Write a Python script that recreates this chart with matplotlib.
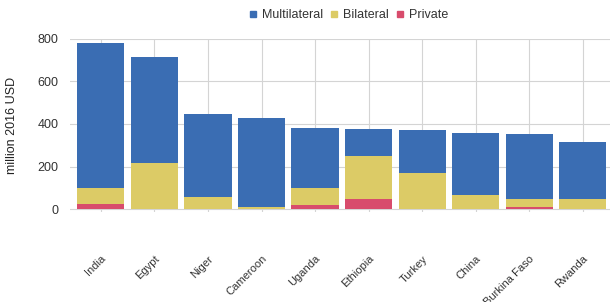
import numpy as np
import matplotlib.pyplot as plt
from matplotlib.lines import Line2D

plt.rcParams['font.family'] = ['Liberation Sans', 'DejaVu Sans']

countries = ['India', 'Egypt', 'Niger', 'Cameroon', 'Uganda', 'Ethiopia',
             'Turkey', 'China', 'Burkina Faso', 'Rwanda']
private = [24, 2, 1, 1, 20, 46, 0, 0, 8, 0]
bilateral = [76, 215, 56, 10, 80, 204, 168, 67, 41, 49]
multilateral = [680, 496, 392, 415, 279, 127, 206, 290, 305, 265]

c_multi = '#3a6db3'
c_bi = '#dccb66'
c_priv = '#d84c6c'

fig = plt.figure(figsize=(6.12, 3.02), dpi=100)
ax = fig.add_axes([0.114, 0.298, 0.883, 0.573])

x = np.arange(len(countries))
priv = np.array(private)
bi = np.array(bilateral)
multi = np.array(multilateral)
w = 0.88
ax.bar(x, priv, w, color=c_priv, zorder=3)
ax.bar(x, bi, w, bottom=priv, color=c_bi, zorder=3)
ax.bar(x, multi, w, bottom=priv + bi, color=c_multi, zorder=3)

ax.set_xlim(-0.58, 9.51)
ax.set_ylim(-14, 800)
ax.set_yticks([0, 200, 400, 600, 800])
ax.set_xticks(x)
ax.set_xticklabels(countries, rotation=45, ha='right', rotation_mode='anchor',
                   fontsize=8, color='#333333')
ax.tick_params(axis='x', length=0, pad=30)
ax.tick_params(axis='y', length=0, labelsize=9, labelcolor='#333333', pad=8)
ax.grid(True, color='#d4d4d4', linewidth=0.8, zorder=0)
for s in ax.spines.values():
    s.set_visible(False)
ax.set_ylabel('million 2016 USD', fontsize=9, color='#222222', labelpad=14)

handles = [Line2D([], [], marker='s', linestyle='', color=c, markersize=4)
           for c in (c_multi, c_bi, c_priv)]
fig.legend(handles, ['Multilateral', 'Bilateral', 'Private'], loc='center',
           bbox_to_anchor=(0.568, 0.95), ncol=3, frameon=False, fontsize=9,
           handletextpad=0.2, columnspacing=0.4, handlelength=1.0,
           labelcolor='#333333')

fig.savefig('out.png', dpi=100)
